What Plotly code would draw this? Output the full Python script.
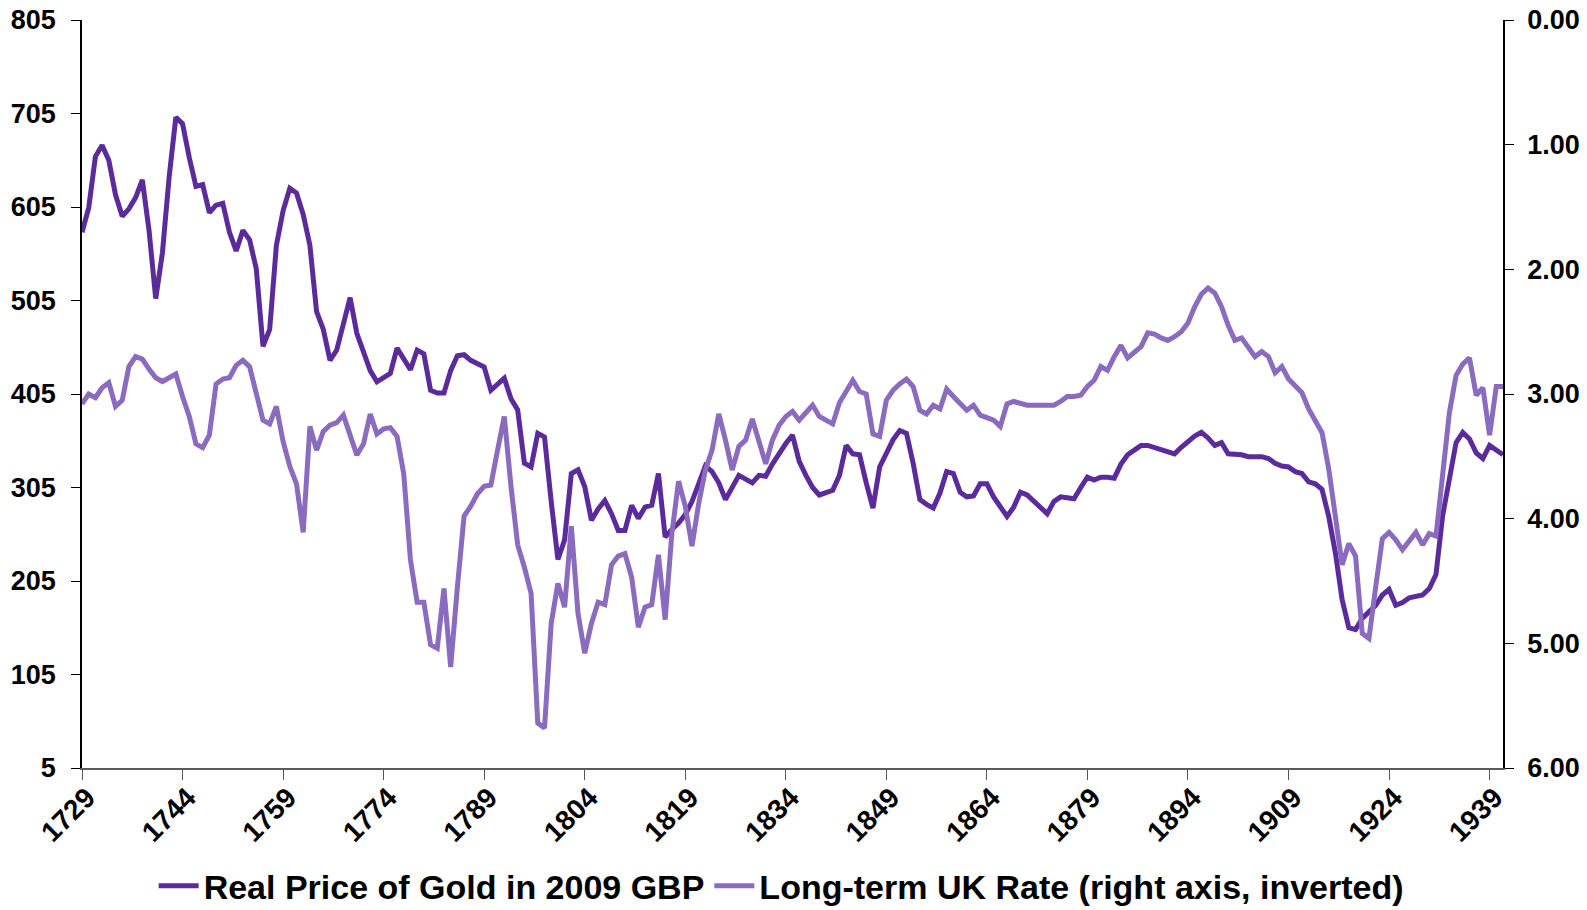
import plotly.graph_objects as go

years = list(range(1729, 1942))

gold_price = [
    578, 604, 659, 671, 655, 618, 595, 603, 615, 634,
    580, 507, 556, 637, 701, 694, 658, 627, 629, 599,
    607, 609, 578, 558, 580, 570, 539, 456, 474, 564,
    601, 625, 620, 597, 564, 493, 474, 441, 452, 480,
    508, 470, 448, 430, 418, 423, 427, 454, 442, 431,
    452, 448, 409, 406, 406, 430, 446, 447, 441, 437,
    434, 409, 416, 422, 400, 388, 331, 327, 363, 359,
    290, 228, 249, 320, 324, 306, 270, 282, 291, 277,
    259, 259, 286, 272, 284, 286, 320, 252, 260, 267,
    276, 290, 309, 328, 322, 310, 292, 305, 318, 314,
    310, 318, 317, 330, 342, 352, 361, 333, 318, 305,
    297, 299, 302, 318, 350, 341, 340, 310, 283, 327,
    342, 356, 366, 363, 331, 292, 287, 283, 299, 322,
    320, 300, 295, 296, 309, 309, 295, 284, 274, 284,
    300, 297, 290, 283, 277, 290, 295, 294, 293, 305,
    316, 313, 316, 316, 315, 330, 340, 345, 350, 350,
    348, 345, 343, 341, 348, 354, 360, 364, 358, 350,
    353, 341, 341, 340, 338, 338, 338, 336, 331, 328,
    327, 322, 320, 311, 309, 303, 274, 235, 185, 155,
    153, 165, 172, 179, 190, 196, 179, 182, 187, 189,
    190, 197, 212, 275, 318, 353, 364, 357, 342, 336,
    350, 345, 340,
]

uk_rate = [
    3.08, 3.00, 3.03, 2.95, 2.91, 3.10, 3.05, 2.78, 2.70, 2.72,
    2.80, 2.87, 2.90, 2.87, 2.84, 3.02, 3.18, 3.40, 3.43, 3.33,
    2.92, 2.88, 2.87, 2.77, 2.73, 2.78, 2.98, 3.21, 3.24, 3.10,
    3.38, 3.58, 3.72, 4.11, 3.26, 3.45, 3.30, 3.25, 3.23, 3.17,
    3.33, 3.49, 3.40, 3.16, 3.32, 3.28, 3.27, 3.34, 3.64, 4.33,
    4.67, 4.67, 5.01, 5.04, 4.56, 5.19, 4.55, 3.98, 3.90, 3.80,
    3.74, 3.73, 3.45, 3.18, 3.74, 4.21, 4.39, 4.60, 5.64, 5.68,
    4.84, 4.52, 4.71, 4.06, 4.76, 5.08, 4.84, 4.67, 4.69, 4.37,
    4.30, 4.28, 4.47, 4.87, 4.71, 4.69, 4.29, 4.81, 4.12, 3.70,
    3.90, 4.22, 3.88, 3.61, 3.45, 3.16, 3.37, 3.61, 3.42, 3.37,
    3.20, 3.38, 3.56, 3.37, 3.25, 3.18, 3.14, 3.21, 3.15, 3.09,
    3.18, 3.21, 3.24, 3.07, 2.98, 2.89, 2.98, 3.00, 3.32, 3.34,
    3.05, 2.97, 2.92, 2.88, 2.94, 3.13, 3.16, 3.09, 3.12, 2.96,
    3.02, 3.07, 3.13, 3.09, 3.17, 3.19, 3.21, 3.26, 3.08, 3.06,
    3.08, 3.09, 3.09, 3.09, 3.09, 3.09, 3.06, 3.02, 3.02, 3.01,
    2.94, 2.89, 2.78, 2.81, 2.70, 2.61, 2.71, 2.66, 2.62, 2.51,
    2.52, 2.55, 2.57, 2.54, 2.50, 2.43, 2.30, 2.20, 2.15, 2.19,
    2.30, 2.45, 2.57, 2.55, 2.62, 2.70, 2.66, 2.70, 2.83, 2.78,
    2.88, 2.93, 2.99, 3.12, 3.22, 3.31, 3.60, 3.96, 4.37, 4.20,
    4.30, 4.92, 4.96, 4.55, 4.16, 4.11, 4.17, 4.25, 4.18, 4.11,
    4.21, 4.12, 4.14, 3.61, 3.15, 2.85, 2.76, 2.71, 3.01, 2.95,
    3.33, 2.94, 2.94,
]

x_ticks = list(range(1729, 1942, 15))
left_ticks = list(range(5, 806, 100))
right_ticks = [0, 1, 2, 3, 4, 5, 6]

assert len(gold_price) == len(years) and len(uk_rate) == len(years)

DARK = "#5b2b9d"
LIGHT = "#8a6bbf"
FONT = "Liberation Sans, Arial, sans-serif"

fig = go.Figure()
fig.add_trace(go.Scatter(
    x=years, y=gold_price, mode="lines", name="Real Price of Gold in 2009 GBP",
    line=dict(color=DARK, width=5), yaxis="y",
))
fig.add_trace(go.Scatter(
    x=years, y=uk_rate, mode="lines", name="Long-term UK Rate (right axis, inverted)",
    line=dict(color=LIGHT, width=5), yaxis="y2",
))

tickfont = dict(family=FONT, size=27, color="black", weight="bold")
xtickfont = dict(family=FONT, size=28, color="black", weight="bold")

fig.update_layout(
    width=1587, height=910,
    margin=dict(l=82, r=84, t=20, b=142, autoexpand=False),
    paper_bgcolor="white", plot_bgcolor="white",
    showlegend=True,
    legend=dict(
        orientation="h", x=0.492, xanchor="center", y=-0.158, yanchor="middle",
        font=dict(family=FONT, size=34, color="black", weight="bold"),
        itemwidth=40, tracegroupgap=0,
    ),
    xaxis=dict(
        range=[1729, 1941], tickvals=x_ticks, tickangle=-45,
        ticks="outside", ticklen=10, tickcolor="#555",
        ticklabelstandoff=-10, ticklabelshift=5,
        showline=True, linecolor="#5a5a5a", linewidth=2,
        showgrid=False, zeroline=False, tickfont=xtickfont, automargin=False,
    ),
    yaxis=dict(
        range=[5, 805], tickvals=left_ticks,
        ticks="outside", ticklen=9, tickcolor="black",
        ticklabelstandoff=10,
        showline=True, linecolor="black", linewidth=1.5,
        showgrid=False, zeroline=False, tickfont=tickfont, automargin=False,
    ),
    yaxis2=dict(
        range=[6, 0], tickvals=right_ticks, tickformat=".2f",
        overlaying="y", side="right",
        ticks="outside", ticklen=9, tickcolor="black",
        ticklabelstandoff=8,
        showline=True, linecolor="black", linewidth=1.5,
        showgrid=False, zeroline=False, tickfont=tickfont, automargin=False,
    ),
)

fig.write_html(
    "out.html",
    config={"displayModeBar": False},
    post_script="document.body.style.margin='0';document.body.style.overflow='hidden';",
)
